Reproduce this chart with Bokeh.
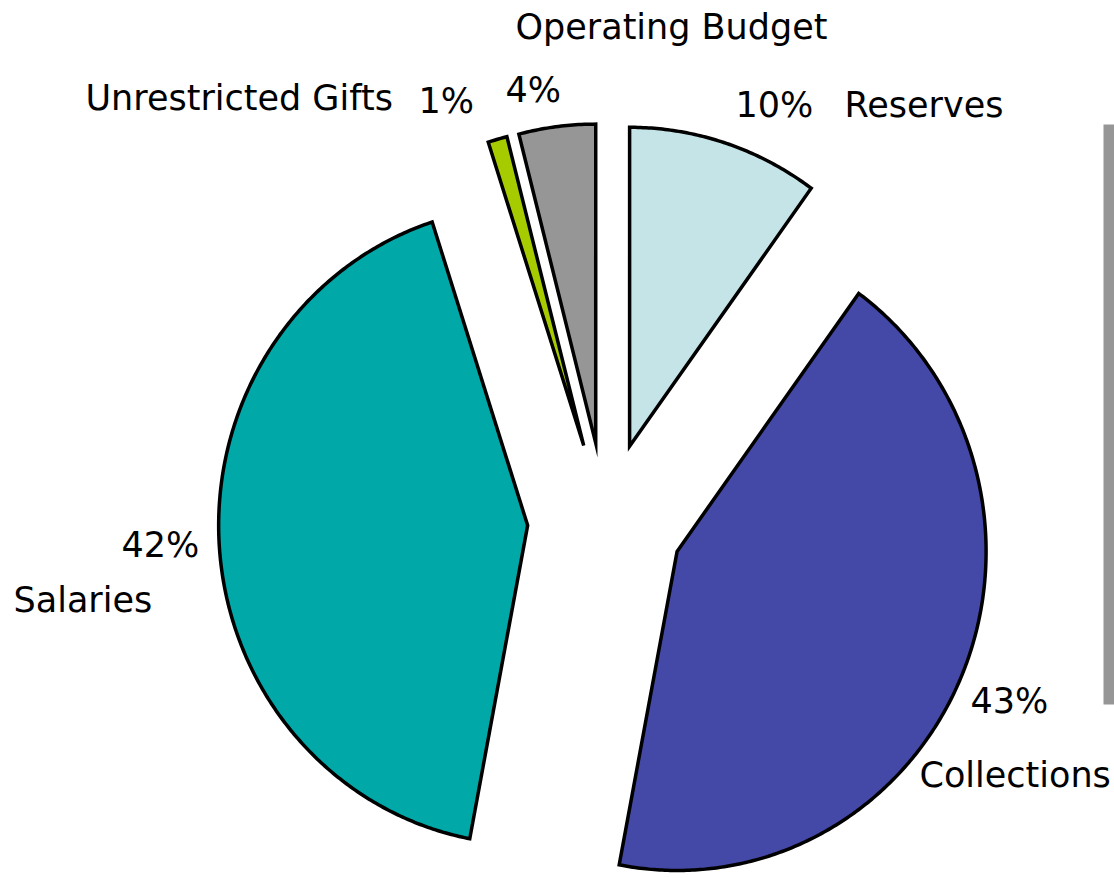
import numpy as np
from bokeh.plotting import figure
from bokeh.models import Range1d, ColumnDataSource
from bokeh.core.properties import value
from bokeh.embed import file_html
from bokeh.resources import INLINE

# ---- data ----
categories = ["Reserves", "Collections", "Salaries", "Unrestricted Gifts", "Operating Budget"]
shares = [10, 43, 42, 1, 4]
colors = ["#C5E4E8", "#4449A8", "#00A8A8", "#A6CC00", "#969696"]

# ---- layout (pixel coordinates, y measured downward) ----
W, H = 1114, 878
def fy(y):
    return H - y

CX, CY = 605, 520      # pie centre
RX, RY = 309, 319      # radii (pie is slightly taller than wide)
EXPLODE = 78           # explosion distance
TEXT_SHIFT = 13        # baseline correction

# label placements as (left x, baseline y)
name_pos = {
    "Reserves": (844, 117),
    "Collections": (919, 787),
    "Salaries": (13, 612),
    "Unrestricted Gifts": (85, 110),
    "Operating Budget": (515, 39),
}
pct_pos = {
    "Reserves": (735, 117),
    "Collections": (970, 713),
    "Salaries": (121, 557),
    "Unrestricted Gifts": (418, 113),
    "Operating Budget": (505, 102),
}

p = figure(width=W, height=H, x_range=Range1d(0, W), y_range=Range1d(0, H),
           output_backend="svg", toolbar_location=None, min_border=0,
           x_axis_location=None, y_axis_location=None)
p.grid.visible = False
p.outline_line_color = None
p.background_fill_color = "white"
p.border_fill_color = "white"

total = float(sum(shares))
vals = np.array(shares, dtype=float)
ends = np.cumsum(vals) / total * 360.0
starts = ends - vals / total * 360.0
mids = (starts + ends) / 2.0

pxs, pys = [], []
for s, e, m in zip(starts, ends, mids):
    ax = CX + EXPLODE * np.sin(np.radians(m))
    ay = fy(CY) + EXPLODE * np.cos(np.radians(m))
    n = max(4, int((e - s) * 2))
    t = np.radians(np.linspace(s, e, n))
    xs = np.concatenate([[ax], ax + RX * np.sin(t)])
    ys = np.concatenate([[ay], ay + RY * np.cos(t)])
    pxs.append(list(xs)); pys.append(list(ys))

src = ColumnDataSource(dict(xs=pxs, ys=pys, color=colors, name=categories))
p.patches(xs="xs", ys="ys", fill_color="color", line_color="black",
          line_width=3.5, line_join="miter", source=src)

# grey bar at right edge (partial legend frame)
p.quad(left=1103, right=1114, top=fy(124), bottom=fy(704), fill_color="#969696", line_color=None)

lx, ly, lt = [], [], []
for c, v in zip(categories, shares):
    x, y = name_pos[c]
    lx.append(x); ly.append(fy(y - TEXT_SHIFT)); lt.append(c)
    x, y = pct_pos[c]
    lx.append(x); ly.append(fy(y - TEXT_SHIFT)); lt.append(f"{v}%")

p.text(x=lx, y=ly, text=lt, text_font=value("DejaVu Sans"), text_font_size="35px",
       text_align="left", text_baseline="alphabetic", text_color="black")

open("out.html", "w").write(file_html(p, INLINE))
